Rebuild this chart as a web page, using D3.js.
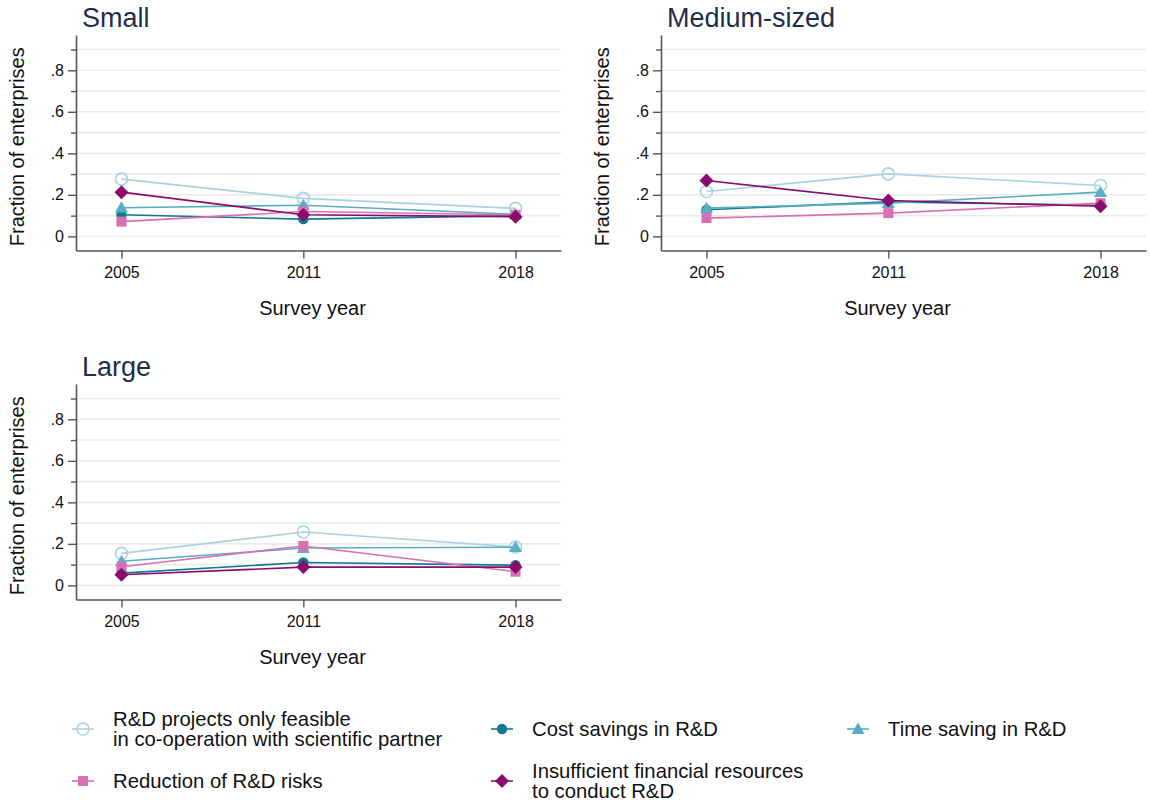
<!DOCTYPE html>
<html><head><meta charset="utf-8">
<script src="https://cdn.jsdelivr.net/npm/d3@7"></script>
<style>
html,body{margin:0;padding:0;background:#fff;}
text{font-family:"Liberation Sans",Arial,sans-serif;}
</style></head><body>
<svg id="chart" width="1150" height="803"></svg>
<script>
// ---- data ----
const years = [2005, 2011, 2018];
const panelNames = ["Small", "Medium-sized", "Large"];
const seriesNames = ["R&D projects only feasible\nin co-operation with scientific partner", "Cost savings in R&D", "Time saving in R&D", "Reduction of R&D risks", "Insufficient financial resources\nto conduct R&D"];
// values per panel (Small, Medium-sized, Large), each over years
const partnerValues = [[0.276, 0.183, 0.135], [0.216, 0.301, 0.245], [0.154, 0.257, 0.185]];
const costValues = [[0.104, 0.083, 0.099], [0.128, 0.166, 0.150], [0.059, 0.110, 0.097]];
const timeValues = [[0.138, 0.150, 0.107], [0.136, 0.160, 0.213], [0.116, 0.180, 0.184]];
const reductionValues = [[0.071, 0.120, 0.104], [0.088, 0.112, 0.160], [0.090, 0.190, 0.066]];
const insufficientValues = [[0.213, 0.104, 0.095], [0.269, 0.173, 0.145], [0.051, 0.088, 0.088]];
const yTickValues = [0, 0.2, 0.4, 0.6, 0.8];
const yMinorValues = [0.1, 0.3, 0.5, 0.7, 0.9];
const yTickLabels = ["0", ".2", ".4", ".6", ".8"];

// ---- styles ----
const colors = ["#a9d3de", "#11788f", "#5aaec3", "#d870b1", "#8a0c6c"];
const shapes = ["circleOpen", "circle", "triangle", "square", "diamond"];
const allValues = [partnerValues, costValues, timeValues, reductionValues, insufficientValues];

const svg = d3.select("#chart");
svg.append("rect").attr("width", 1150).attr("height", 803).attr("fill", "#fff");

const layouts = [
  {left: 76, right: 561, top: 35, bottom: 250.5},
  {left: 661, right: 1146, top: 35, bottom: 250.5},
  {left: 76, right: 561, top: 384, bottom: 599.5}
];

function drawMarker(g, shape, color, cx, cy, scale) {
  scale = scale || 1;
  if (shape === "circleOpen") {
    g.append("circle").attr("cx", cx).attr("cy", cy).attr("r", 6 * scale)
      .attr("fill", "#fff").attr("fill-opacity", 0).attr("stroke", color).attr("stroke-width", 1.6);
  } else if (shape === "circle") {
    g.append("circle").attr("cx", cx).attr("cy", cy).attr("r", 5.2 * scale).attr("fill", color);
  } else if (shape === "triangle") {
    const s = 6.5 * scale;
    g.append("path").attr("d", `M${cx},${cy - s}L${cx + s},${cy + s * 0.75}L${cx - s},${cy + s * 0.75}Z`).attr("fill", color);
  } else if (shape === "square") {
    const s = 5 * scale;
    g.append("rect").attr("x", cx - s).attr("y", cy - s).attr("width", 2 * s).attr("height", 2 * s).attr("fill", color);
  } else if (shape === "diamond") {
    const s = 7 * scale;
    g.append("path").attr("d", `M${cx},${cy - s}L${cx + s},${cy}L${cx},${cy + s}L${cx - s},${cy}Z`).attr("fill", color);
  }
}

panelNames.forEach((name, pi) => {
  const L = layouts[pi];
  const x = d3.scaleLinear().domain([2003.5, 2019.5]).range([L.left, L.right]);
  const y = d3.scaleLinear().domain([-0.068, 0.97]).range([L.bottom, L.top]);
  const g = svg.append("g");

  // gridlines
  g.selectAll("line.grid").data(yTickValues.concat(yMinorValues)).enter().append("line")
    .attr("x1", L.left).attr("x2", L.right)
    .attr("y1", d => y(d)).attr("y2", d => y(d))
    .attr("stroke", "#ebebeb").attr("stroke-width", 1.6);

  // y axis
  const yAxis = d3.axisLeft(y).tickValues(yTickValues)
    .tickFormat((d, i) => yTickLabels[i]).tickSize(8).tickSizeOuter(0).tickPadding(4);
  const ya = g.append("g").attr("transform", `translate(${L.left},0)`).call(yAxis);
  const yMinor = d3.axisLeft(y).tickValues(yMinorValues).tickFormat("").tickSize(5).tickSizeOuter(0);
  const ym = g.append("g").attr("transform", `translate(${L.left},0)`).call(yMinor);
  ym.select(".domain").remove();
  [ya, ym].forEach(a => {
    a.selectAll("line").attr("stroke", "#555").attr("stroke-width", 1.4);
    a.select(".domain").attr("stroke", "#555").attr("stroke-width", 1.6);
  });
  ya.selectAll("text").attr("font-size", 16).attr("fill", "#111");

  // x axis
  const xAxis = d3.axisBottom(x).tickValues(years).tickFormat(d3.format("d"))
    .tickSize(8).tickSizeOuter(0).tickPadding(8);
  const xa = g.append("g").attr("transform", `translate(0,${L.bottom})`).call(xAxis);
  xa.selectAll("line").attr("stroke", "#555").attr("stroke-width", 1.4);
  xa.select(".domain").attr("stroke", "#555").attr("stroke-width", 1.6);
  xa.selectAll("text").attr("font-size", 16).attr("fill", "#111");

  // titles
  g.append("text").attr("x", L.left + 6).attr("y", L.top - 8).attr("font-size", 27)
    .attr("fill", "#1f2d4e").text(name);
  g.append("text").attr("transform", `translate(${L.left - 52},${(L.top + L.bottom) / 2 + 4}) rotate(-90)`)
    .attr("text-anchor", "middle").attr("font-size", 20).attr("fill", "#111").text("Fraction of enterprises");
  g.append("text").attr("x", (L.left + L.right) / 2 - 6).attr("y", L.bottom + 64)
    .attr("text-anchor", "middle").attr("font-size", 20).attr("fill", "#111").text("Survey year");

  // series
  const line = d3.line().x((d, i) => x(years[i])).y(d => y(d));
  allValues.forEach((vals, si) => {
    const v = vals[pi];
    g.append("path").attr("d", line(v)).attr("fill", "none")
      .attr("stroke", colors[si]).attr("stroke-width", 1.6);
    v.forEach((d, i) => drawMarker(g, shapes[si], colors[si], x(years[i]), y(d)));
  });
});

// legend
const legendPos = [[83, 729], [502, 729], [858, 729], [83, 781], [502, 781]];
const lg = svg.append("g");
seriesNames.forEach((name, si) => {
  const [mx, my] = legendPos[si];
  lg.append("line").attr("x1", mx - 11).attr("x2", mx + 11).attr("y1", my).attr("y2", my)
    .attr("stroke", colors[si]).attr("stroke-width", 1.6);
  drawMarker(lg, shapes[si], colors[si], mx, my);
  const lines = name.split("\n");
  const t = lg.append("text").attr("font-size", 20.3).attr("fill", "#111");
  lines.forEach((ln, li) => {
    t.append("tspan").attr("x", mx + 30)
      .attr("y", my + 7 + (li - (lines.length - 1) / 2) * 20).text(ln);
  });
});
</script>
</body></html>
